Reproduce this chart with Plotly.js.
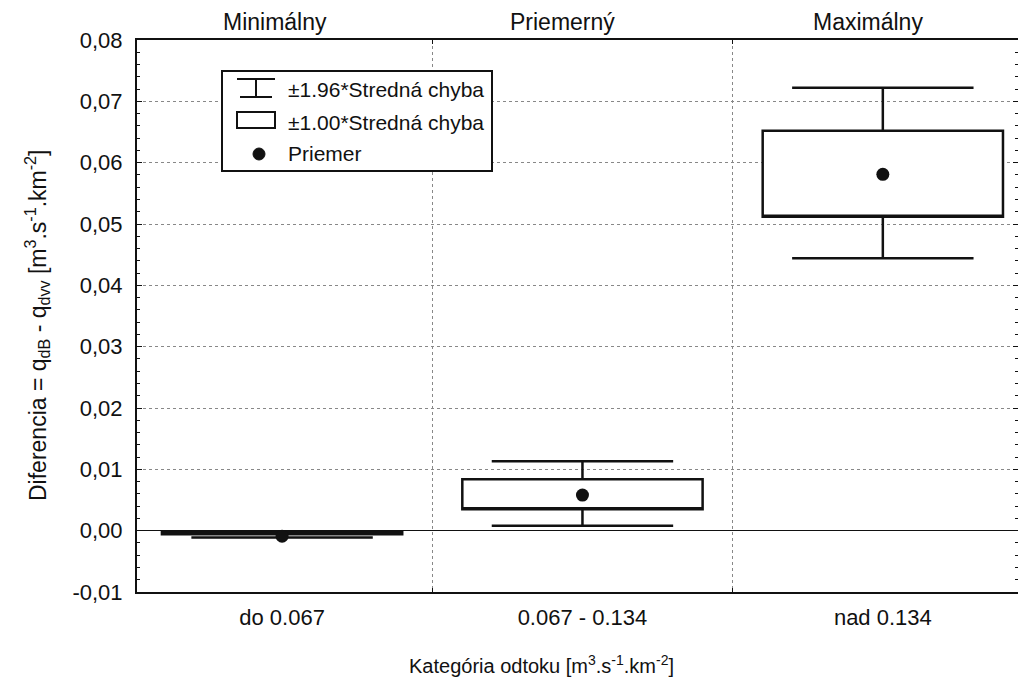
<!DOCTYPE html>
<html><head><meta charset="utf-8">
<script src="https://cdn.plot.ly/plotly-3.0.1.min.js"></script>
<style>html,body{margin:0;padding:0;background:#fff}#chart{width:1018px;height:678px}</style>
</head><body><div id="chart"></div>
<script>
// ---- data ----
const categories = ['do 0.067', '0.067 - 0.134', 'nad 0.134'];
const topLabels = ['Minimálny', 'Priemerný', 'Maximálny'];
const means = [-0.0009, 0.0058, 0.0581];
const boxLow = [-0.0006, 0.0035, 0.0512];
const boxHigh = [-0.0002, 0.0084, 0.0652];
const whiskerLow = [-0.0011, 0.0008, 0.0444];
const whiskerHigh = [-0.0001, 0.0113, 0.0722];
const yTickVals = [-0.01, 0, 0.01, 0.02, 0.03, 0.04, 0.05, 0.06, 0.07, 0.08];
const yTickLabels = ['-0,01', '0,00', '0,01', '0,02', '0,03', '0,04', '0,05', '0,06', '0,07', '0,08'];
const legendLabels = ['±1.96*Stredná chyba', '±1.00*Stredná chyba', 'Priemer'];

// ---- layout helpers ----
const W = 1018, H = 678, ML = 137, MR = 0, MT = 40, MB = 86;
const PW = W - ML - MR, PH = H - MT - MB;
const X = p => (p - ML) / PW;
const Y = p => (H - MB - p) / PH;
const ink = '#111';
const font = 'Liberation Sans, Arial, sans-serif';
const topShift = [-7, -20, -15];

const boxTrace = {
  type: 'box',
  x: categories,
  q1: boxLow,
  median: boxLow,
  q3: boxHigh,
  lowerfence: whiskerLow,
  upperfence: whiskerHigh,
  boxpoints: false,
  width: 0.8,
  whiskerwidth: 0.755,
  fillcolor: 'white',
  line: {color: ink, width: 2.5},
  hoverinfo: 'skip'
};
const meanTrace = {
  type: 'scatter', mode: 'markers',
  x: categories, y: means,
  marker: {size: 13, color: ink},
  hoverinfo: 'skip'
};

const shapes = [
  {type: 'rect', xref: 'paper', yref: 'paper', x0: X(222), x1: X(492), y0: Y(171), y1: Y(71),
   line: {color: ink, width: 2}, fillcolor: 'white'},
  {type: 'line', xref: 'paper', yref: 'paper', x0: X(237), x1: X(275), y0: Y(79), y1: Y(79), line: {color: ink, width: 2}},
  {type: 'line', xref: 'paper', yref: 'paper', x0: X(256), x1: X(256), y0: Y(79), y1: Y(97), line: {color: ink, width: 2}},
  {type: 'line', xref: 'paper', yref: 'paper', x0: X(240), x1: X(272), y0: Y(97), y1: Y(97), line: {color: ink, width: 2}},
  {type: 'rect', xref: 'paper', yref: 'paper', x0: X(237), x1: X(275), y0: Y(128), y1: Y(112), line: {color: ink, width: 2}, fillcolor: 'white'},
  {type: 'circle', xref: 'paper', yref: 'paper', x0: X(253), x1: X(265), y0: Y(160), y1: Y(148), line: {color: ink, width: 1}, fillcolor: ink}
];

const annotations = [];
legendLabels.forEach((t, i) => {
  annotations.push({text: t, xref: 'paper', yref: 'paper', x: X(286), y: Y([90, 122, 153][i]),
    xanchor: 'left', yanchor: 'middle', showarrow: false, font: {family: font, size: 21, color: ink}});
});
topLabels.forEach((t, i) => {
  annotations.push({text: t, xref: 'x', yref: 'paper', x: categories[i], y: 1, yshift: 18, xshift: topShift[i],
    xanchor: 'center', yanchor: 'middle', showarrow: false, font: {family: font, size: 23, color: ink}});
});
annotations.push({text: 'Kategória odtoku [m<sup>3</sup>.s<sup>-1</sup>.km<sup>-2</sup>]',
  xref: 'paper', yref: 'paper', x: X(541), y: Y(664), xanchor: 'center', yanchor: 'middle',
  showarrow: false, font: {family: font, size: 20, color: ink}});
annotations.push({text: 'Diferencia = q<sub>dB</sub> - q<sub>dvv</sub> [m<sup>3</sup>.s<sup>-1</sup>.km<sup>-2</sup>]',
  xref: 'paper', yref: 'paper', x: X(37), y: Y(326), xanchor: 'center', yanchor: 'middle', textangle: -90,
  showarrow: false, font: {family: font, size: 23, color: ink}});

const layout = {
  width: W, height: H,
  margin: {l: ML, r: MR, t: MT, b: MB, pad: 0},
  paper_bgcolor: 'white', plot_bgcolor: 'white',
  font: {family: font, size: 22, color: ink},
  showlegend: false,
  xaxis: {
    type: 'category', range: [-0.483, 2.45], tickson: 'boundaries',
    ticks: 'inside', ticklen: 4, tickcolor: ink, tickwidth: 1,
    showline: true, linecolor: ink, linewidth: 2, mirror: 'ticks',
    showgrid: true, gridcolor: '#888', griddash: 'dot', gridwidth: 1,
    zeroline: false, ticklabelstandoff: 5, tickfont: {family: font, size: 22, color: ink}
  },
  yaxis: {
    range: [-0.01, 0.08], tickmode: 'array', tickvals: yTickVals, ticktext: yTickLabels,
    ticks: 'inside', ticklen: 5, tickcolor: ink,
    showline: true, linecolor: ink, linewidth: 2, mirror: 'ticks',
    showgrid: true, gridcolor: '#888', griddash: 'dot', gridwidth: 1,
    zeroline: true, zerolinecolor: ink, zerolinewidth: 1.5,
    ticklabelstandoff: 8, tickfont: {family: font, size: 22, color: ink},
    minor: {tickmode: 'linear', tick0: 0, dtick: 0.002, ticks: 'inside', ticklen: 3, tickcolor: ink, showgrid: false}
  },
  shapes: shapes,
  annotations: annotations
};

Plotly.newPlot('chart', [boxTrace, meanTrace], layout, {displayModeBar: false, staticPlot: true});
</script>
</body></html>
